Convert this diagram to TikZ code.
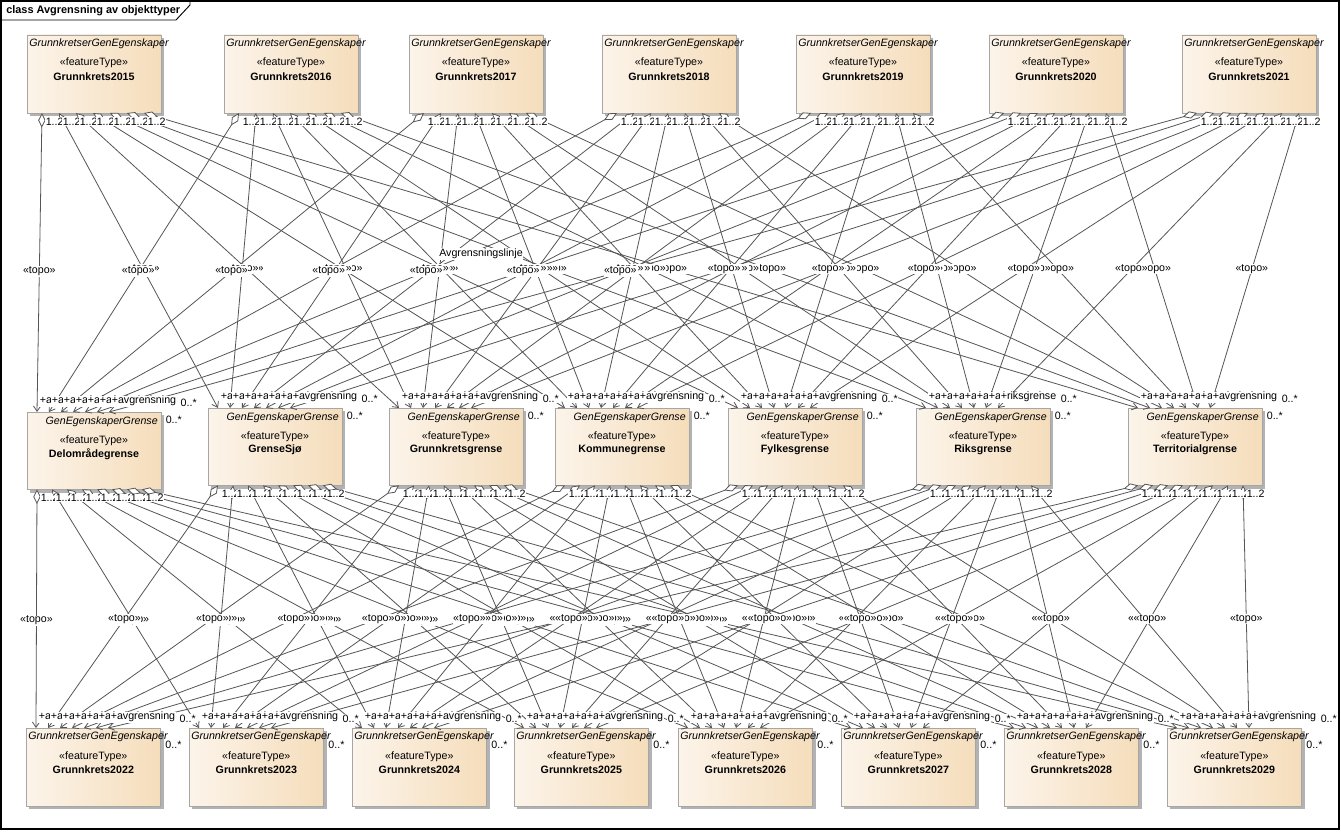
\documentclass[tikz,border=0pt]{standalone}
\usepackage{fontspec}
\setmainfont{Liberation Sans}
\usetikzlibrary{calc,shadows,arrows.meta}
\definecolor{bl}{HTML}{FCF4EA}
\definecolor{br}{HTML}{F5DDBB}
\definecolor{ln}{HTML}{555555}
\begin{document}
\begin{tikzpicture}[x=0.75pt,y=-0.75pt,
  font=\fontsize{8}{9.6}\selectfont,
  gbox/.style={draw=black!35, line width=0.6pt, left color=bl, right color=br,
    minimum width=100.5pt, minimum height=58.5pt, inner sep=0pt, outer sep=0pt,
    drop shadow={shadow xshift=2.6pt, shadow yshift=-2.6pt, fill=black!30, opacity=1}},
  ster/.style={font=\fontsize{8}{9.6}\selectfont\itshape, inner sep=0pt},
  ft/.style={inner sep=0pt},
  nm/.style={font=\fontsize{8}{9.6}\selectfont\bfseries, inner sep=0pt},
  assoc/.style={draw=ln, line width=0.6pt,
    arrows={Diamond[fill=white,length=11pt,width=5.5pt]-Straight Barb[length=4pt,width=5.5pt]}},
  lbl/.style={fill=white, inner sep=0.4pt}]
\useasboundingbox (0,0) rectangle (1341,831);
\fill[white] (0,0) rectangle (1341,831);
% frame
\draw[black, line width=0.9pt] (1,1) rectangle (1339,829);
\draw[black, line width=0.7pt] (1,20) -- (176,20) -- (190,5) -- (190,1);
\node[anchor=west, font=\fontsize{8.2}{10}\selectfont\bfseries, inner sep=0pt] (title) at (6,11) {class Avgrensning av objekttyper};

% top boxes
\foreach \x/\n [count=\i from 0] in {27/2015,224/2016,409/2017,602/2018,796/2019,989/2020,1182/2021}{
  \node[gbox, anchor=north west] (t\i) at (\x,35) {};
  \node[ster, anchor=west] (ta\i) at ($(t\i.north west)+(2,9)$) {GrunnkretserGenEgenskaper};
  \node[ft] (tb\i) at ($(t\i.north)+(0,28)$) {«featureType»};
  \node[nm] (tc\i) at ($(t\i.north)+(0,42)$) {Grunnkrets\n};
}
% middle boxes
\foreach \x/\y/\n [count=\i from 0] in {27/412/Delområdegrense,208/408/GrenseSjø,389/408/Grunnkretsgrense,555/408/Kommunegrense,728/408/Fylkesgrense,916/408/Riksgrense,1128/408/Territorialgrense}{
  \node[gbox, anchor=north west, minimum height=58pt] (m\i) at (\x,\y) {};
  \node[ster, anchor=east] (ma\i) at ($(m\i.north east)+(-3,10)$) {GenEgenskaperGrense};
  \node[ft] (mb\i) at ($(m\i.north)+(0,29)$) {«featureType»};
  \node[nm] (mc\i) at ($(m\i.north)+(0,42)$) {\n};
}
% bottom boxes
\foreach \x/\n [count=\i from 0] in {26/2022,189/2023,352/2024,514/2025,678/2026,841/2027,1004/2028,1167/2029}{
  \node[gbox, anchor=north west, minimum width=101pt] (b\i) at (\x,728) {};
  \node[ster, anchor=west] (ba\i) at ($(b\i.north west)+(2,9)$) {GrunnkretserGenEgenskaper};
  \node[ft] (bb\i) at ($(b\i.north)+(0,29)$) {«featureType»};
  \node[nm] (bc\i) at ($(b\i.north)+(0,42)$) {Grunnkrets\n};
}

% coordinates of connector ends
\foreach \i in {0,...,6}{
  \foreach \j in {0,...,6}{
    \pgfmathsetmacro{\sx}{15+\j*17}
    \pgfmathsetmacro{\ex}{10+\i*12}
    \coordinate (ts\i\j) at ($(t\i.south west)+(\sx,0)$);
    \coordinate (te\i\j) at ($(m\j.north west)+(\ex,0)$);
  }}
\foreach \j in {0,...,6}{
  \foreach \k in {0,...,7}{
    \pgfmathsetmacro{\sx}{10+\k*15}
    \pgfmathsetmacro{\ex}{10+\j*12}
    \coordinate (bs\j\k) at ($(m\j.south west)+(\sx,0)$);
    \coordinate (be\j\k) at ($(b\k.north west)+(\ex,0)$);
  }}

% connectors
\foreach \i in {0,...,6}{\foreach \j in {0,...,6}{
  \draw[assoc] (ts\i\j) -- (te\i\j);}}
\foreach \j in {0,...,6}{\foreach \k in {0,...,7}{
  \draw[assoc] (bs\j\k) -- (be\j\k);}}

% stereotype labels
\foreach \i in {0,...,6}{\foreach \j in {0,...,6}{
  \node[lbl] (tp\i\j) at ($(ts\i\j)!0.53!(te\i\j)$) {«topo»};}}
\foreach \j in {0,...,6}{\foreach \k in {0,...,7}{
  \node[lbl] (bp\j\k) at ($(bs\j\k)!0.55!(be\j\k)$) {«topo»};}}
\node[lbl] (avl) at (481,254) {Avgrensningslinje};

% source multiplicities
\foreach \i in {0,...,6}{\foreach \j in {0,...,6}{
  \node[lbl, anchor=north west] (tm\i\j) at ($(ts\i\j)+(3,4)$) {1..2};}}
\foreach \j in {0,...,6}{\foreach \k in {0,...,7}{
  \node[lbl, anchor=north west] (bm\j\k) at ($(bs\j\k)+(3,4)$) {1..2};}}

% target roles and multiplicities
\foreach \j in {0,...,6}{\foreach \i in {0,...,6}{
  \ifnum\j=5 \ifnum\i=6 \def\rl{+riksgrense}\else\def\rl{+avgrensning}\fi\else\def\rl{+avgrensning}\fi
  \node[lbl, anchor=south west] (tr\i\j) at ($(te\i\j)+(2,-5)$) {\rl};}
  \node[lbl, anchor=south west] (tz\j) at ($(tr6\j.south east)+(3,0)$) {0..*};
  \node[lbl, anchor=north west] (tw\j) at ($(m\j.north east)+(4,3)$) {0..*};}
\foreach \k in {0,...,7}{\foreach \j in {0,...,6}{
  \node[lbl, anchor=south west] (br\j\k) at ($(be\j\k)+(2,-5)$) {+avgrensning};}
  \node[lbl, anchor=south west] (bz\k) at ($(br6\k.south east)+(3,0)$) {0..*};
  \node[lbl, anchor=north west] (bw\k) at ($(b\k.north east)+(4,12)$) {0..*};}
\end{tikzpicture}
\end{document}
